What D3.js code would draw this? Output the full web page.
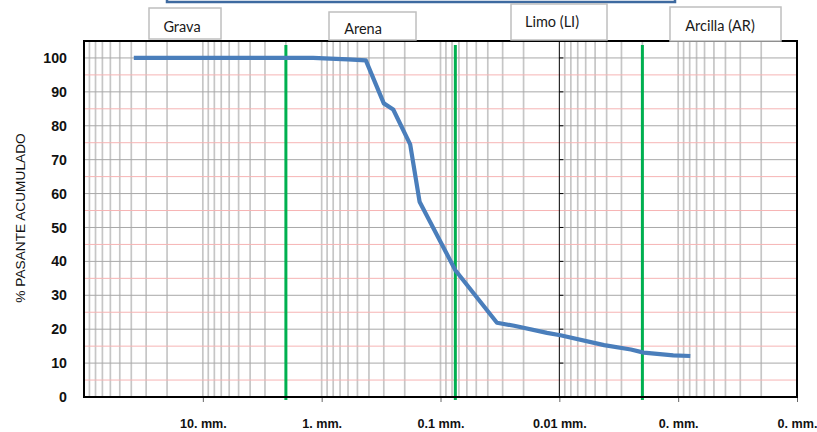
<!DOCTYPE html>
<html>
<head>
<meta charset="utf-8">
<script src="https://cdn.jsdelivr.net/npm/d3@7"></script>
<style>
  html, body { margin: 0; padding: 0; background: #fff; }
  svg { display: block; }
</style>
</head>
<body>
<div id="chart"></div>
<script>
// ---------------------------------------------------------
// DATA
// ---------------------------------------------------------
const sizesMm = [38.1, 25.4, 19.05, 12.7, 9.525, 4.75, 2.36, 2.0, 1.18, 0.85, 0.6, 0.425,
                 0.3, 0.25, 0.18, 0.15, 0.075,
                 0.0335, 0.024, 0.0127, 0.0098, 0.0042, 0.0025, 0.00195, 0.0011, 0.00079];
const passing = [100, 100, 100, 100, 100, 100, 100, 100, 100, 99.8, 99.6, 99.3,
                 86.6, 84.8, 74.5, 57.6, 37.4,
                 21.9, 21.0, 18.9, 18.2, 15.3, 14.0, 13.1, 12.3, 12.1];

const boundariesMm = [2.0, 0.075, 0.002];
const zoneNames = ["Grava", "Arena", "Limo (LI)", "Arcilla (AR)"];

const xTickValues = [10, 1, 0.1, 0.01, 0.001, 0.0001];
const xTickLabels = ["10. mm.", "1. mm.", "0.1 mm.", "0.01 mm.", "0. mm.", "0. mm."];
const yTickValues = [0, 10, 20, 30, 40, 50, 60, 70, 80, 90, 100];
const yTitle = "% PASANTE ACUMULADO";

// ---------------------------------------------------------
// SETUP
// ---------------------------------------------------------
const width = 817, height = 432;
const plot = { left: 84, right: 797, top: 41, bottom: 397 };

const svg = d3.select("#chart").append("svg")
    .attr("width", width)
    .attr("height", height);

const x = d3.scaleLog().domain([100, 0.0001]).range([plot.left, plot.right]);
const y = d3.scaleLinear().domain([0, 105]).range([plot.bottom, plot.top]);

const labelFont = "'Liberation Sans', Arial, sans-serif";

// ---------------------------------------------------------
// GRID
// ---------------------------------------------------------
const minorX = [];
for (let e = -4; e <= 1; e++) {
  for (let k = 1; k <= 9; k++) {
    const v = k * Math.pow(10, e);
    if (v <= 100 && v >= 0.0001) minorX.push(v);
  }
}

const gGrid = svg.append("g");

gGrid.selectAll("line.v")
  .data(minorX.filter(v => Math.abs(v - 0.01) > 1e-9))
  .enter().append("line")
    .attr("x1", d => x(d)).attr("x2", d => x(d))
    .attr("y1", plot.top).attr("y2", plot.bottom)
    .attr("stroke", "#c6c6c6")
    .attr("stroke-width", 1.7);

// pink half lines
gGrid.selectAll("line.p")
  .data(d3.range(5, 105, 10))
  .enter().append("line")
    .attr("x1", plot.left).attr("x2", plot.right)
    .attr("y1", d => y(d)).attr("y2", d => y(d))
    .attr("stroke", "#f6b4b4")
    .attr("stroke-width", 1);

gGrid.selectAll("line.h")
  .data(yTickValues.slice(1))
  .enter().append("line")
    .attr("x1", plot.left).attr("x2", plot.right)
    .attr("y1", d => y(d)).attr("y2", d => y(d))
    .attr("stroke", "#a8a8a8")
    .attr("stroke-width", 1);

// black line at 0.01 mm with small ticks
gGrid.append("line")
  .attr("x1", x(0.01)).attr("x2", x(0.01))
  .attr("y1", plot.top).attr("y2", plot.bottom)
  .attr("stroke", "#000")
  .attr("stroke-width", 1);

gGrid.selectAll("line.t")
  .data(yTickValues.slice(1))
  .enter().append("line")
    .attr("x1", x(0.01)).attr("x2", x(0.01) + 4)
    .attr("y1", d => y(d)).attr("y2", d => y(d))
    .attr("stroke", "#000")
    .attr("stroke-width", 1);

// ---------------------------------------------------------
// AXES
// ---------------------------------------------------------
const xAxis = d3.axisBottom(x)
    .tickValues(xTickValues)
    .tickFormat((d, i) => xTickLabels[i])
    .tickSize(5)
    .tickPadding(17);

const gx = svg.append("g")
    .attr("transform", `translate(0,${plot.bottom})`)
    .call(xAxis);
gx.select(".domain").remove();
gx.selectAll(".tick line").attr("stroke", "#666").attr("stroke-width", 1);
gx.selectAll(".tick text")
    .attr("fill", "#111")
    .style("font-family", labelFont)
    .style("font-weight", "bold")
    .style("font-size", "12.6px");

const yAxis = d3.axisLeft(y)
    .tickValues(yTickValues)
    .tickSize(0)
    .tickPadding(17);

const gy = svg.append("g")
    .attr("transform", `translate(${plot.left},0)`)
    .call(yAxis);
gy.select(".domain").remove();
gy.selectAll(".tick text")
    .attr("fill", "#111")
    .style("font-family", labelFont)
    .style("font-weight", "bold")
    .style("font-size", "14.2px");

svg.append("text")
    .attr("transform", `translate(25,218) rotate(-90)`)
    .attr("text-anchor", "middle")
    .attr("fill", "#111")
    .style("font-family", labelFont)
    .style("font-size", "13.7px")
    .text(yTitle);

// ---------------------------------------------------------
// BOUNDARIES + CURVE
// ---------------------------------------------------------
svg.selectAll("line.b")
  .data(boundariesMm)
  .enter().append("line")
    .attr("x1", d => x(d)).attr("x2", d => x(d))
    .attr("y1", 45).attr("y2", plot.bottom + 3)
    .attr("stroke", "#00b050")
    .attr("stroke-width", 3);

const curve = sizesMm.map((d, i) => [d, passing[i]]);

svg.append("path")
    .datum(curve)
    .attr("fill", "none")
    .attr("stroke", "#4a7ebb")
    .attr("stroke-width", 4.2)
    .attr("stroke-linejoin", "round")
    .attr("d", d3.line().x(d => x(d[0])).y(d => y(d[1])));

// frame
svg.append("rect")
    .attr("x", plot.left).attr("y", plot.top)
    .attr("width", plot.right - plot.left)
    .attr("height", plot.bottom - plot.top)
    .attr("fill", "none")
    .attr("stroke", "#000")
    .attr("stroke-width", 2);

// ---------------------------------------------------------
// TITLE + ZONE BOXES
// ---------------------------------------------------------
svg.append("rect")
    .attr("x", 167).attr("y", -20)
    .attr("width", 508).attr("height", 22)
    .attr("fill", "#fff")
    .attr("stroke", "#3e6aa0")
    .attr("stroke-width", 2.5);

const boxLayout = [
  { x: 149, y: 8,  w: 72,  h: 31, tx: 182, ty: 32 },
  { x: 329, y: 12, w: 87,  h: 28, tx: 363, ty: 33.5 },
  { x: 511, y: 4,  w: 96,  h: 36, tx: 552, ty: 27 },
  { x: 670, y: 7,  w: 111, h: 34, tx: 720, ty: 30.5 }
];

const gBoxes = svg.selectAll("g.zone")
  .data(zoneNames)
  .enter().append("g");

gBoxes.append("rect")
    .attr("x", (d, i) => boxLayout[i].x)
    .attr("y", (d, i) => boxLayout[i].y)
    .attr("width", (d, i) => boxLayout[i].w)
    .attr("height", (d, i) => boxLayout[i].h)
    .attr("fill", "#fff")
    .attr("stroke", "#bfbfbf")
    .attr("stroke-width", 1.5);

gBoxes.append("text")
    .attr("x", (d, i) => boxLayout[i].tx)
    .attr("y", (d, i) => boxLayout[i].ty)
    .attr("text-anchor", "middle")
    .attr("fill", "#1a1a1a")
    .style("font-family", "Lato, 'Open Sans', sans-serif")
    .style("font-size", "14.5px")
    .text(d => d);
</script>
</body>
</html>
